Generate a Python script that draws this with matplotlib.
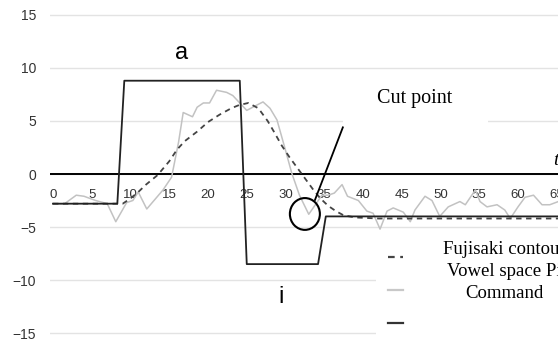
import matplotlib
matplotlib.use("Agg")
import matplotlib.pyplot as plt
from matplotlib.patches import Ellipse, Rectangle

# command (step shape)
cmd_x = [0, 8.3, 9.2, 24.1, 25.0, 34.2, 35.2, 66]
cmd_y = [-2.8, -2.8, 8.8, 8.8, -8.5, -8.5, -4.0, -4.0]

# fujisaki contour (dashed)
fuj_x = [0, 9, 10, 11, 12, 13.5, 15, 16, 17, 18.6, 20, 21.5, 23, 24, 25.2,
         26.5, 27.7, 28.5, 29.5, 30.5, 31.5, 32.5, 33.5, 34.5, 35.5, 36.5,
         37.5, 39, 42, 50, 60, 66]
fuj_y = [-2.8, -2.8, -2.3, -1.7, -1.0, -0.1, 1.2, 2.3, 3.1, 4.0, 4.9, 5.6,
         6.2, 6.5, 6.7, 6.2, 5.0, 4.0, 2.7, 1.6, 0.6, -0.4, -1.4, -2.3, -3.0,
         -3.5, -3.9, -4.1, -4.2, -4.2, -4.2, -4.2]

# vowel space pitch (gray)
vow_x = [0, 1.5, 3, 4, 5.5, 7, 8.1, 9.5, 10.3, 11, 12.1, 14.2, 15.3, 16.2,
         16.8, 18, 18.6, 19.4, 20.2, 21.1, 22.4, 23.2, 24.1, 25, 26.3, 27.1,
         28, 28.9, 29.9, 30.8, 31.8, 33, 34.7, 35.5, 36.3, 37.3, 38, 39.4,
         40.5, 41.3, 42.2, 43.1, 43.9, 45.2, 46.1, 46.7, 48, 48.9, 49.9, 51,
         52.5, 53.2, 54.5, 55.1, 56, 57.3, 58.3, 59, 60, 60.9, 62, 63.1, 64.1,
         65.2]
vow_y = [-2.8, -2.8, -2.0, -2.1, -2.5, -2.8, -4.5, -2.7, -2.5, -1.7, -3.3,
         -1.5, -0.3, 3.0, 5.8, 5.4, 6.3, 6.7, 6.7, 7.9, 7.7, 7.4, 6.7, 6.0,
         6.5, 6.8, 6.2, 5.1, 2.5, 0.1, -2.0, -3.8, -2.0, -2.0, -1.8, -1.0,
         -2.1, -2.5, -3.5, -3.7, -5.2, -3.5, -3.2, -3.6, -4.5, -3.4, -2.1,
         -2.5, -4.0, -3.1, -2.6, -2.9, -1.5, -2.6, -3.1, -2.9, -3.4, -4.2,
         -3.1, -2.2, -2.0, -2.9, -2.9, -2.6]

yticks = [-15, -10, -5, 0, 5, 10, 15]
xticks = [0, 5, 10, 15, 20, 25, 30, 35, 40, 45, 50, 55, 60, 65]
legend_lines = ["Fujisaki contour", "Vowel space Pitch", "Command"]

plt.rcParams['font.family'] = ['Liberation Sans', 'DejaVu Sans']

fig = plt.figure(figsize=(5.58, 3.39), dpi=100)
ax = fig.add_axes([50 / 558, 1 / 339, 508 / 558, 328 / 339])
ax.set_xlim(-0.387, 65.16)
ax.set_ylim(-15.47, 15.47)
for s in ax.spines.values():
    s.set_visible(False)

ax.set_xticks([])
ax.set_yticks(yticks)
ax.set_yticklabels([str(v).replace('-', '\u2212') for v in yticks],
                   fontsize=10, color='#333333')
ax.tick_params(axis='y', length=0, pad=10)
ax.grid(axis='y', color='#e3e3e3', lw=1)
ax.axhline(0, color='black', lw=1.4, zorder=2)

for t in xticks:
    ax.text(t, -2.0, str(t), ha='center', va='center', fontsize=9.5,
            color='#333333', zorder=2)

ax.plot(vow_x, vow_y, color='#c2c2c2', lw=1.1, zorder=3)
ax.plot(fuj_x, fuj_y, color='#444444', lw=1.3, ls=(0, (3, 2.5)), zorder=4)
ax.plot(cmd_x, cmd_y, color='#222222', lw=1.3, zorder=5)

# cut point marker
ax.add_patch(Ellipse((32.5, -3.77), 3.87, 3.0, fill=False, ec='black', lw=1.5, zorder=6))
ax.plot([33.8, 37.4], [-2.45, 4.4], color='black', lw=1.3, zorder=6)

# white boxes behind the annotations
ax.add_patch(Rectangle((37.4, 4.6), 18.7, 4.5, fc='white', ec='none', zorder=7))
ax.add_patch(Rectangle((41.7, -16), 30, 10.6, fc='white', ec='none', zorder=7))

ax.text(46.7, 7.1, "Cut point", ha='center', va='center', fontsize=14.5,
        family='Liberation Serif', zorder=8)
ax.text(16.6, 11.4, "a", ha='center', va='center', fontsize=17, zorder=8)
ax.text(29.4, -11.6, "i", ha='center', va='center', fontsize=17, zorder=8)
ax.text(64.55, 1.3, "t", ha='left', va='center', fontsize=14, style='italic',
        family='Liberation Serif', clip_on=False, zorder=8)

# legend drawn by hand like the original
text_px = [443, 447, 465]
text_py = [250, 272, 293]
for lab, px, py in zip(legend_lines, text_px, text_py):
    fig.text(px / 558, 1 - py / 339, lab, ha='left', va='center',
             fontsize=13.5, family='Liberation Serif', zorder=9)

mark_py = [257, 290, 323]
mark_styles = [('#444444', (0, (3, 2.5))), ('#c8c8c8', '-'), ('#333333', '-')]
for py, (c, ls) in zip(mark_py, mark_styles):
    yy = 1 - py / 339
    fig.add_artist(plt.Line2D([388 / 558, 403 / 558], [yy, yy], color=c,
                              ls=ls, lw=1.6))

fig.savefig("out.png", dpi=100)
